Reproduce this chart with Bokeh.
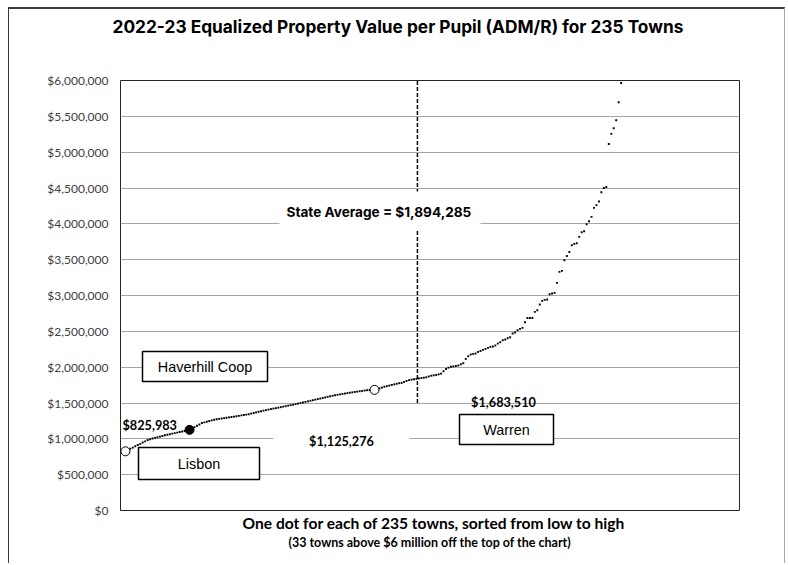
from bokeh.plotting import figure
from bokeh.models import Range1d, Label, BoxAnnotation, NumeralTickFormatter, FixedTicker, Title
from bokeh.embed import file_html
from bokeh.resources import INLINE

# ---------------- data ----------------
title_text = "2022-23 Equalized Property Value per Pupil (ADM/R) for 235 Towns"
xlabel_1 = "One dot for each of 235 towns, sorted from low to high"
xlabel_2 = "(33 towns above $6 million off the top of the chart)"

# equalized property value per pupil, in thousands of dollars, towns sorted low -> high
# (only the 202 towns below $6 million are visible on the chart)
epv_thousands = [
    825.983, 843, 861, 878, 896, 913, 930, 948, 965, 983,
    995, 1004, 1013, 1022, 1031, 1040, 1049, 1057, 1065, 1072,
    1080, 1087, 1095, 1102, 1110, 1117, 1125.276, 1144, 1163, 1182,
    1201, 1220, 1230, 1239, 1248, 1257, 1266, 1273, 1278, 1283,
    1289, 1294, 1299, 1304, 1310, 1316, 1321, 1327, 1333, 1338,
    1344, 1352, 1360, 1369, 1377, 1385, 1393, 1401, 1408, 1415,
    1422, 1428, 1435, 1442, 1449, 1456, 1463, 1470, 1477, 1484,
    1491, 1499, 1507, 1515, 1523, 1531, 1539, 1547, 1555, 1562,
    1570, 1578, 1586, 1594, 1601, 1608, 1614, 1620, 1626, 1632,
    1638, 1644, 1649, 1654, 1659, 1664, 1669, 1674, 1679, 1680,
    1682, 1683.510, 1691, 1703, 1715, 1727, 1735, 1743, 1752, 1760,
    1768, 1776, 1780, 1794, 1808, 1819, 1826, 1832, 1837, 1843,
    1848, 1853, 1859, 1870, 1881, 1886, 1891, 1900, 1910, 1943,
    1975, 1993, 2006, 2011, 2017, 2023, 2040, 2055, 2115, 2153,
    2177, 2185, 2191, 2213, 2227, 2241, 2255, 2269, 2283, 2288,
    2302, 2330, 2348, 2376, 2386, 2404, 2418, 2470, 2484, 2516,
    2534, 2548, 2627, 2687, 2687, 2687, 2771, 2795, 2874, 2925,
    2939, 2944, 3018, 3028, 3036, 3176, 3329, 3343, 3492, 3552,
    3608, 3702, 3720, 3730, 3818, 3883, 3897, 3995, 4037, 4097,
    4222, 4261, 4311, 4441, 4501, 4515, 5115, 5255, 5334, 5445,
    5696, 5966,
]
epv = [v * 1000 for v in epv_thousands]
ranks = list(range(1, len(epv) + 1))

highlight_towns = ["Lisbon", "Haverhill Coop", "Warren"]
highlight_ranks = [1, 27, 102]
highlight_values = [825983, 1125276, 1683510]

state_average = 1894285
state_average_rank = 119.4

y_ticks = [0, 500000, 1000000, 1500000, 2000000, 2500000, 3000000,
           3500000, 4000000, 4500000, 5000000, 5500000, 6000000]

# ---------------- layout (page pixels) ----------------
ORIGIN_X, ORIGIN_Y = 9, 9          # canvas origin on the page (after CSS margin + border)
FRAME_L, FRAME_R, FRAME_T, FRAME_B = 120, 739, 80, 510
X0, X1 = -1, 250
Y0, Y1 = 0, 6000000


def dx(px):
    return X0 + (px - FRAME_L) * (X1 - X0) / (FRAME_R - FRAME_L)


def dy(py):
    return Y0 + (FRAME_B - py) * (Y1 - Y0) / (FRAME_B - FRAME_T)


W, H = 777, 556
p = figure(width=W, height=H, output_backend="svg", toolbar_location=None,
           title=None, x_range=Range1d(X0, X1), y_range=Range1d(Y0, Y1),
           min_border_left=FRAME_L - ORIGIN_X, min_border_right=W - (FRAME_R - ORIGIN_X),
           min_border_top=FRAME_T - ORIGIN_Y, min_border_bottom=H - (FRAME_B - ORIGIN_Y))
p.styles = {"margin-top": "7px", "margin-left": "8px",
            "border-top": "2px solid #3a3a3a", "border-left": "1px solid #3a3a3a",
            "border-right": "1px solid #a8a8a8"}

p.outline_line_color = "#262626"
p.outline_line_width = 1
p.background_fill_color = "white"
p.border_fill_color = "white"

p.xaxis.visible = False
p.xgrid.visible = False
p.ygrid.ticker = FixedTicker(ticks=y_ticks)
p.ygrid.grid_line_color = "#a6a6a6"
p.ygrid.grid_line_width = 1

ax = p.yaxis[0]
ax.ticker = FixedTicker(ticks=y_ticks)
ax.formatter = NumeralTickFormatter(format="$0,0")
ax.axis_line_color = None
ax.major_tick_line_color = None
ax.minor_tick_line_color = None
ax.major_tick_out = 0
ax.major_tick_in = 0
ax.minor_tick_out = 0
ax.major_label_standoff = 12
ax.major_label_text_font = "Lato"
ax.major_label_text_font_size = "12px"
ax.major_label_text_color = "#404040"

# titles (above / below the plotting frame); a blank spacer sits between frame and title
p.add_layout(Title(text=" ", text_font_size="1px", standoff=41), "above")
p.add_layout(Title(text=title_text, align="left", offset=112 - FRAME_L,
                   text_font="Inter", text_font_size="17.3px", text_font_style="bold",
                   text_color="black", standoff=0), "above")
p.add_layout(Title(text=xlabel_1, align="left", offset=242 - FRAME_L,
                   text_font="Lato", text_font_size="15.6px", text_font_style="bold",
                   text_color="black", standoff=2), "below")
p.add_layout(Title(text=xlabel_2, align="left", offset=288 - FRAME_L,
                   text_font="Lato", text_font_size="12.5px", text_font_style="bold",
                   text_color="black", standoff=1), "below")

# state average dashed line
p.segment(x0=[state_average_rank], y0=[1500000], x1=[state_average_rank], y1=[Y1],
          line_color="black", line_width=1.5, line_dash="4 2")

# dots
p.scatter(ranks, epv, marker="square", size=1.9, fill_color="black", line_color=None)

# highlighted towns
p.scatter([highlight_ranks[0], highlight_ranks[2]], [highlight_values[0], highlight_values[2]],
          marker="circle", size=9, fill_color="white", line_color="black", line_width=1)
p.scatter([highlight_ranks[1]], [highlight_values[1]], marker="circle", size=9,
          fill_color="black", line_color="black")


def box(l, r, t, b, border=True):
    p.add_layout(BoxAnnotation(left=dx(l), right=dx(r), top=dy(t), bottom=dy(b),
                               fill_color="white", fill_alpha=1,
                               line_color="black" if border else None, line_alpha=1,
                               line_width=1.5, level="annotation"))


box(279, 480, 191, 229, border=False)    # behind state average text
box(273, 409, 428, 452, border=False)    # behind $1,125,276
box(142, 267, 351, 381)                  # Haverhill Coop
box(138, 259, 447, 479)                  # Lisbon
box(459, 553, 414, 444)                  # Warren


def label(px, py, text, font, size, bold=False, align="center", color="black"):
    p.add_layout(Label(x=dx(px), y=dy(py), text=text, text_font=font,
                       text_font_size=size, text_font_style="bold" if bold else "normal",
                       text_align=align, text_baseline="middle", text_color=color))


label(286, 211, f"State Average = ${state_average:,.0f}", "Inter", "13.6px", bold=True, align="left")
label(122, 424, f"${highlight_values[0]:,.0f}", "Lato", "12.7px", bold=True, align="left")
label(341, 440, f"${highlight_values[1]:,.0f}", "Lato", "12.7px", bold=True)
label(503, 401, f"${highlight_values[2]:,.0f}", "Lato", "12.7px", bold=True)
label(204.5, 366, highlight_towns[1], "Liberation Sans", "14.4px")
label(198.5, 463, highlight_towns[0], "Liberation Sans", "14.4px")
label(506, 429, highlight_towns[2], "Liberation Sans", "14.4px")

open("out.html", "w").write(file_html(p, INLINE))
